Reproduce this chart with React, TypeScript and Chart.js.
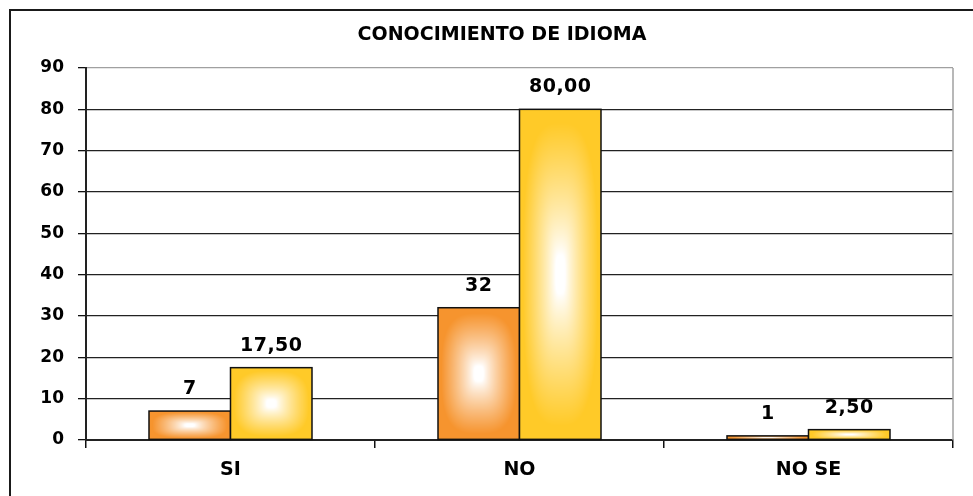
import React, { useEffect, useRef } from "react";
import { Chart, registerables } from "chart.js";

Chart.register(...registerables);

const title = "CONOCIMIENTO DE IDIOMA";
const categories = ["SI", "NO", "NO SE"];
const counts = [7, 32, 1];
const percents = [17.5, 80, 2.5];
const yMin = 0;
const yMax = 90;
const yStep = 10;

const orangeEdge: [number, number, number] = [246, 148, 46];
const yellowEdge: [number, number, number] = [255, 202, 40];
const FONT = "DejaVu Sans";

function rectGradient(w: number, h: number, edge: [number, number, number]) {
  const c = document.createElement("canvas");
  const W = Math.max(1, Math.round(w));
  const H = Math.max(1, Math.round(h));
  c.width = W;
  c.height = H;
  const g = c.getContext("2d")!;
  const img = g.createImageData(W, H);
  const cx = W / 2, cy = H / 2;
  const p = 3;
  for (let yy = 0; yy < H; yy++) {
    for (let xx = 0; xx < W; xx++) {
      const ax = Math.abs(xx + 0.5 - cx) / cx;
      const ay = Math.abs(yy + 0.5 - cy) / cy;
      const t = Math.pow(Math.pow(ax, p) + Math.pow(ay, p), 1 / p);
      let f = (t - 0.12) / 0.8;
      f = Math.min(1, Math.max(0, f));
      f = Math.pow(f, 0.85);
      const i = (yy * W + xx) * 4;
      img.data[i] = 255 + (edge[0] - 255) * f;
      img.data[i + 1] = 255 + (edge[1] - 255) * f;
      img.data[i + 2] = 255 + (edge[2] - 255) * f;
      img.data[i + 3] = 255;
    }
  }
  g.putImageData(img, 0, 0);
  return c;
}

const decor = {
  id: "decor",
  beforeDraw(chart: any) {
    const ctx = chart.ctx;
    ctx.save();
    ctx.fillStyle = "#fff";
    ctx.fillRect(0, 0, chart.width, chart.height);
    ctx.strokeStyle = "#1a1a1a";
    ctx.lineWidth = 2;
    ctx.beginPath();
    ctx.moveTo(10, chart.height);
    ctx.lineTo(10, 10);
    ctx.lineTo(chart.width, 10);
    ctx.stroke();
    ctx.fillStyle = "#000";
    ctx.font = `bold 19px "${FONT}"`;
    ctx.textAlign = "center";
    ctx.textBaseline = "middle";
    ctx.fillText(title, 502, 35);
    ctx.restore();
  },
  beforeDatasetsDraw(chart: any) {
    const { ctx, chartArea } = chart;
    ctx.save();
    ctx.strokeStyle = "#a0a0a0";
    ctx.lineWidth = 1.5;
    ctx.beginPath();
    ctx.moveTo(chartArea.right, chartArea.top);
    ctx.lineTo(chartArea.right, chartArea.bottom);
    ctx.stroke();
    ctx.restore();
  },
  afterDatasetsDraw(chart: any) {
    const ctx = chart.ctx;
    ctx.save();
    chart.data.datasets.forEach((ds: any, di: number) => {
      const meta = chart.getDatasetMeta(di);
      const edge = di === 0 ? orangeEdge : yellowEdge;
      meta.data.forEach((el: any, i: number) => {
        const p = el.getProps(["x", "y", "base", "width"], true);
        const left = p.x - p.width / 2;
        const top = Math.min(p.y, p.base);
        const h = Math.abs(p.base - p.y);
        if (h >= 1) {
          const g = rectGradient(p.width, h, edge);
          ctx.drawImage(g, left, top, p.width, h);
        } else {
          ctx.fillStyle = `rgb(${edge.join(",")})`;
          ctx.fillRect(left, top, p.width, Math.max(h, 1));
        }
        ctx.strokeStyle = "#111";
        ctx.lineWidth = 1.5;
        ctx.strokeRect(left, top, p.width, h);
        const v = ds.data[i];
        const label = di === 0 ? String(v) : v.toFixed(2).replace(".", ",");
        ctx.fillStyle = "#000";
        ctx.font = `bold 19px "${FONT}"`;
        (ctx as any).letterSpacing = "0.5px";
        ctx.textAlign = "center";
        ctx.textBaseline = "alphabetic";
        ctx.fillText(label, p.x, top - 17);
        (ctx as any).letterSpacing = "0px";
      });
    });
    ctx.restore();
  },
};

export default function App() {
  const ref = useRef<HTMLCanvasElement | null>(null);
  useEffect(() => {
    document.body.style.margin = "0";
    const canvas = ref.current!;
    const chart = new Chart(canvas, {
      type: "bar",
      data: {
        labels: categories,
        datasets: [
          {
            label: "Cantidad",
            data: counts,
            backgroundColor: "rgba(0,0,0,0)",
            borderWidth: 0,
            categoryPercentage: 0.564,
            barPercentage: 1,
          },
          {
            label: "Porcentaje",
            data: percents,
            backgroundColor: "rgba(0,0,0,0)",
            borderWidth: 0,
            categoryPercentage: 0.564,
            barPercentage: 1,
          },
        ],
      },
      options: {
        responsive: false,
        animation: false,
        devicePixelRatio: 1,
        layout: { padding: { top: 68, right: 20, left: 0, bottom: 0 } },
        plugins: {
          legend: { display: false },
          tooltip: { enabled: false },
          title: { display: false },
        },
        scales: {
          x: {
            grid: {
              drawOnChartArea: false,
              drawTicks: true,
              tickLength: 8,
              color: "#111",
              lineWidth: 1.5,
              offset: true,
            },
            border: { color: "#222", width: 2 },
            ticks: {
              color: "#000",
              font: { family: FONT, weight: "bold", size: 19 },
              padding: 11,
            },
            afterFit: (s: any) => {
              s.height = 56;
            },
          },
          y: {
            min: yMin,
            max: yMax,
            ticks: {
              stepSize: yStep,
              color: "#000",
              font: { family: FONT, weight: "bold", size: 17 },
              padding: 14,
            },
            grid: {
              color: (c: any) => (c.tick && c.tick.value === yMax ? "#a0a0a0" : "#222"),
              tickColor: "#111",
              tickLength: 8,
              lineWidth: 1.3,
            },
            border: { color: "#222", width: 2 },
            afterFit: (s: any) => {
              s.width = 86;
            },
          },
        },
      } as any,
      plugins: [decor],
    });
    return () => chart.destroy();
  }, []);
  return (
    <div style={{ position: "fixed", left: 0, top: 0, width: 973, height: 496 }}>
      <canvas ref={ref} width={973} height={496} style={{ width: 973, height: 496, display: "block" }} />
    </div>
  );
}
